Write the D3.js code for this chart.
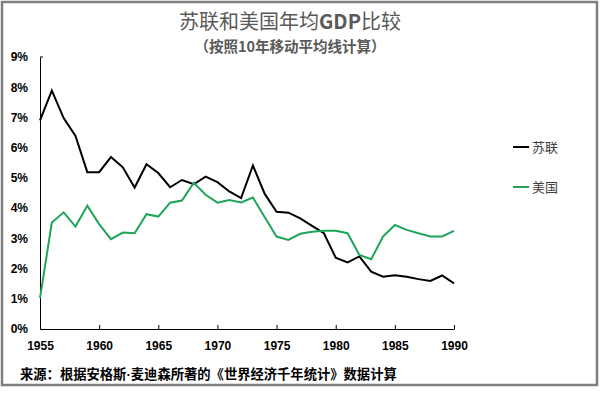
<!DOCTYPE html>
<html>
<head>
<meta charset="utf-8">
<script src="https://cdn.jsdelivr.net/npm/d3@7"></script>
<style>
  body { margin: 0; background: #fff; }
  svg { display: block; }
</style>
</head>
<body>
<svg id="chart"></svg>
<script>
// data (10-yr moving average GDP growth, %)
const years = d3.range(1955, 1991);
const ussr = [6.9, 7.89, 6.98, 6.39, 5.19, 5.19, 5.69, 5.35, 4.68, 5.45, 5.16, 4.69, 4.93, 4.79, 5.04, 4.86, 4.55, 4.33,
              5.41, 4.47, 3.88, 3.85, 3.66, 3.41, 3.17, 2.36, 2.2, 2.4, 1.9, 1.73, 1.78, 1.73, 1.65, 1.59, 1.77, 1.51];
const usa = [1.02, 3.52, 3.86, 3.39, 4.08, 3.47, 2.97, 3.19, 3.17, 3.8, 3.72, 4.18, 4.25, 4.84, 4.44, 4.18, 4.27, 4.19,
             4.35, 3.7, 3.06, 2.95, 3.15, 3.22, 3.25, 3.25, 3.17, 2.45, 2.31, 3.06, 3.44, 3.28, 3.17, 3.06, 3.06, 3.25];
const seriesNames = ["苏联", "美国"];
const yTicks = [0, 1, 2, 3, 4, 5, 6, 7, 8, 9];
const xTicks = [1955, 1960, 1965, 1970, 1975, 1980, 1985, 1990];
const titleParts = ["苏联和美国年均", "GDP", "比较"];
const subtitle = "（按照10年移动平均线计算）";
const sourceParts = ["来源：根据安格斯", "·", "麦迪森所著的《世界经济千年统计》数据计算"];

const W = 608, H = 393;
const margin = { top: 57, right: 154, bottom: 64, left: 40 };
const w = W - margin.left - margin.right;
const h = H - margin.top - margin.bottom;

const color = d3.scaleOrdinal().domain(seriesNames).range(["#000000", "#1fa45c"]);
const fontCJK = "'Noto Sans CJK SC', 'Noto Sans', sans-serif";
const fontLatin = "'Liberation Sans', Arial, sans-serif";

const svg = d3.select("#chart")
    .attr("width", W)
    .attr("height", H)
    .style("font-family", fontCJK);

// outer frame
svg.append("rect")
    .attr("x", 2).attr("y", 2)
    .attr("width", 595).attr("height", 383)
    .attr("fill", "none")
    .attr("stroke", "#7f7f7f")
    .attr("stroke-width", 2.5);

const g = svg.append("g")
    .attr("transform", `translate(${margin.left},${margin.top})`);

const xScale = d3.scaleLinear().domain([1955, 1990]).range([0, w]);
const yScale = d3.scaleLinear().domain([0, 9]).range([h, 0]);

// x axis, ticks pointing inward
const xAxis = g.append("g")
    .attr("transform", `translate(0,${h})`)
    .call(d3.axisBottom(xScale).tickValues(xTicks).tickFormat(d3.format("d")).tickSize(-4).tickSizeOuter(0).tickPadding(12));
xAxis.select(".domain").attr("stroke", "#000").attr("stroke-width", 1);
xAxis.selectAll(".tick line").attr("stroke", "#000");
xAxis.selectAll("text")
    .style("font-family", fontLatin)
    .style("font-size", "12px")
    .style("font-weight", "bold")
    .attr("fill", "#000");

// y axis
const yAxis = g.append("g")
    .call(d3.axisLeft(yScale).tickValues(yTicks).tickFormat(d => d + "%").tickSize(0).tickPadding(12));
yAxis.select(".domain").attr("stroke", "#000").attr("stroke-width", 1);
yAxis.selectAll("text")
    .style("font-family", fontLatin)
    .style("font-size", "12px")
    .style("font-weight", "bold")
    .attr("fill", "#000");
// small stub at top of y axis
g.append("line")
    .attr("x1", 0).attr("x2", 3)
    .attr("y1", yScale(9)).attr("y2", yScale(9))
    .attr("stroke", "#000");

// lines
const series = [
    { name: seriesNames[0], values: ussr },
    { name: seriesNames[1], values: usa }
];
const line = d3.line()
    .x((d, i) => xScale(years[i]))
    .y(d => yScale(d));

g.selectAll(".series")
    .data(series)
    .enter()
    .append("path")
    .attr("class", "series")
    .attr("d", d => line(d.values))
    .attr("fill", "none")
    .attr("stroke", d => color(d.name))
    .attr("stroke-width", 2)
    .attr("stroke-linejoin", "miter");

// legend
const legend = svg.append("g")
    .attr("transform", "translate(513,147)");
const items = legend.selectAll(".legend-item")
    .data(seriesNames)
    .enter()
    .append("g")
    .attr("class", "legend-item")
    .attr("transform", (d, i) => `translate(0,${i * 40})`);
items.append("line")
    .attr("x1", 0).attr("x2", 16)
    .attr("y1", 0).attr("y2", 0)
    .attr("stroke", d => color(d))
    .attr("stroke-width", 2);
items.append("text")
    .attr("x", 19)
    .attr("dy", "0.35em")
    .text(d => d)
    .style("font-size", "13px")
    .attr("fill", "#404040");

// titles
const tt = svg.append("text")
    .attr("x", 290).attr("y", 22)
    .attr("dy", "0.35em")
    .attr("text-anchor", "middle")
    .attr("fill", "#595959")
    .style("font-size", "20px");
tt.selectAll("tspan")
    .data(titleParts)
    .enter()
    .append("tspan")
    .text(d => d)
    .style("font-weight", (d, i) => i === 1 ? "bold" : "normal");

svg.append("text")
    .attr("x", 290).attr("y", 47)
    .attr("dy", "0.35em")
    .attr("text-anchor", "middle")
    .attr("fill", "#595959")
    .style("font-size", "14.5px")
    .style("font-weight", "bold")
    .text(subtitle);

// source note
const st = svg.append("text")
    .attr("x", 20).attr("y", 374)
    .attr("dy", "0.35em")
    .attr("fill", "#000")
    .style("font-size", "13.3px")
    .style("font-weight", "bold");
st.selectAll("tspan")
    .data(sourceParts)
    .enter()
    .append("tspan")
    .text(d => d)
    .style("font-family", (d, i) => i === 1 ? fontLatin : fontCJK);
</script>
</body>
</html>
